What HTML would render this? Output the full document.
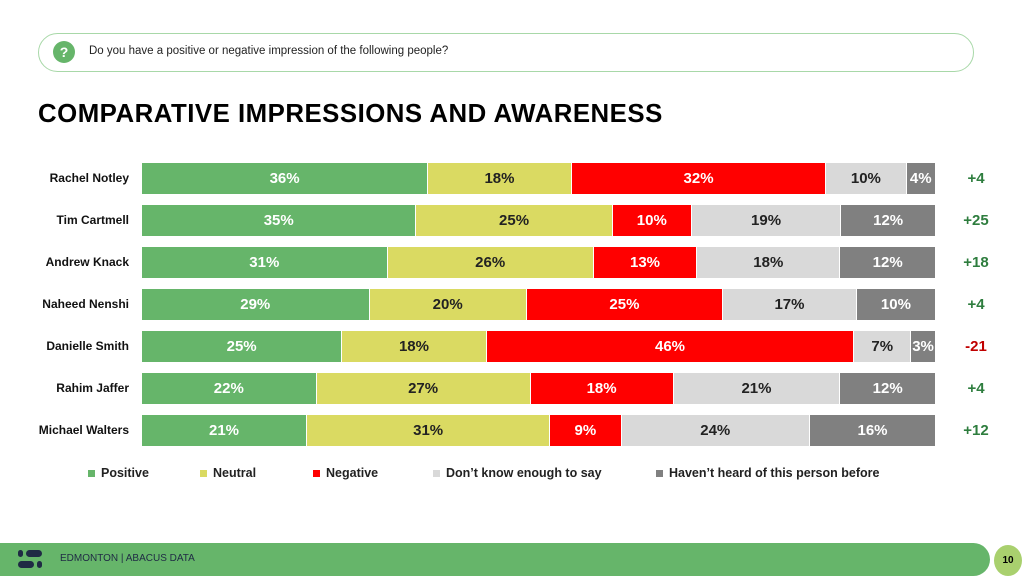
<!DOCTYPE html>
<html><head><meta charset="utf-8"><style>
body{margin:0;width:1024px;height:576px;position:relative;background:#fff;font-family:"Liberation Sans",sans-serif;overflow:hidden}
.q{position:absolute;left:38px;top:33px;width:936px;height:39px;border:1px solid #a8d8a8;border-radius:20px;box-sizing:border-box}
.qi{position:absolute;left:14px;top:7px;width:22px;height:22px;border-radius:50%;background:#66b56a;color:#fff;font-weight:bold;font-size:14px;text-align:center;line-height:22px}
.qt{position:absolute;left:50px;top:11px;font-size:11.5px;color:#222}
h1{position:absolute;left:38px;top:100px;margin:0;font-size:25.8px;font-weight:bold;letter-spacing:0.5px;color:#000}
.lab{position:absolute;right:895px;font-size:12px;font-weight:bold;color:#111;line-height:31px;text-align:right;white-space:nowrap}
.bar{position:absolute;left:142px;width:794px;height:31px;display:flex}
.bar div{height:100%;text-align:center;line-height:31px;font-size:15px;font-weight:bold;box-sizing:border-box;border-right:1px solid #fff;overflow:hidden}
.p{background:#66b56a;color:#fff}.n{background:#dada62;color:#222}.g{background:#ff0000;color:#fff}.d{background:#d9d9d9;color:#222}.h{background:#808080;color:#fff}
.diff{position:absolute;left:956px;font-size:15px;font-weight:bold;color:#2e7d3e;line-height:31px;width:40px;text-align:center}
.leg{position:absolute;top:466px;font-size:12.5px;font-weight:bold;color:#222;display:flex;align-items:center}
.leg span{display:inline-block;width:7px;height:7px;margin-right:6px}
.foot{position:absolute;left:0;top:543px;width:990px;height:33px;background:#66b56a;border-radius:0 17px 17px 0}
.ft{position:absolute;left:60px;top:553px;font-size:10px;color:#1f2a44}
.pg{position:absolute;left:994px;top:545px;width:28px;height:31px;border-radius:50%;background:#a9d06e;font-size:10px;font-weight:bold;text-align:center;line-height:31px}
</style></head><body>
<div class="q"><div class="qi">?</div><div class="qt">Do you have a positive or negative impression of the following people?</div></div>
<h1>COMPARATIVE IMPRESSIONS AND AWARENESS</h1>

<div class="lab" style="top:163px">Rachel Notley</div>
<div class="bar" style="top:163px"><div class="p" style="flex:36">36%</div><div class="n" style="flex:18">18%</div><div class="g" style="flex:32">32%</div><div class="d" style="flex:10">10%</div><div class="h" style="flex:3.6">4%</div></div>
<div class="diff" style="top:163px">+4</div>

<div class="lab" style="top:205px">Tim Cartmell</div>
<div class="bar" style="top:205px"><div class="p" style="flex:35">35%</div><div class="n" style="flex:25">25%</div><div class="g" style="flex:10">10%</div><div class="d" style="flex:19">19%</div><div class="h" style="flex:12">12%</div></div>
<div class="diff" style="top:205px">+25</div>

<div class="lab" style="top:247px">Andrew Knack</div>
<div class="bar" style="top:247px"><div class="p" style="flex:31">31%</div><div class="n" style="flex:26">26%</div><div class="g" style="flex:13">13%</div><div class="d" style="flex:18">18%</div><div class="h" style="flex:12">12%</div></div>
<div class="diff" style="top:247px">+18</div>

<div class="lab" style="top:289px">Naheed Nenshi</div>
<div class="bar" style="top:289px"><div class="p" style="flex:29">29%</div><div class="n" style="flex:20">20%</div><div class="g" style="flex:25">25%</div><div class="d" style="flex:17">17%</div><div class="h" style="flex:10">10%</div></div>
<div class="diff" style="top:289px">+4</div>

<div class="lab" style="top:331px">Danielle Smith</div>
<div class="bar" style="top:331px"><div class="p" style="flex:25">25%</div><div class="n" style="flex:18">18%</div><div class="g" style="flex:46">46%</div><div class="d" style="flex:7">7%</div><div class="h" style="flex:3">3%</div></div>
<div class="diff" style="top:331px;color:#c00000">-21</div>

<div class="lab" style="top:373px">Rahim Jaffer</div>
<div class="bar" style="top:373px"><div class="p" style="flex:22">22%</div><div class="n" style="flex:27">27%</div><div class="g" style="flex:18">18%</div><div class="d" style="flex:21">21%</div><div class="h" style="flex:12">12%</div></div>
<div class="diff" style="top:373px">+4</div>

<div class="lab" style="top:415px">Michael Walters</div>
<div class="bar" style="top:415px"><div class="p" style="flex:21">21%</div><div class="n" style="flex:31">31%</div><div class="g" style="flex:9">9%</div><div class="d" style="flex:24">24%</div><div class="h" style="flex:16">16%</div></div>
<div class="diff" style="top:415px">+12</div>

<div class="leg" style="left:88px"><span style="background:#66b56a"></span>Positive</div>
<div class="leg" style="left:200px"><span style="background:#dada62"></span>Neutral</div>
<div class="leg" style="left:313px"><span style="background:#ff0000"></span>Negative</div>
<div class="leg" style="left:433px"><span style="background:#d9d9d9"></span>Don’t know enough to say</div>
<div class="leg" style="left:656px"><span style="background:#808080"></span>Haven’t heard of this person before</div>

<div class="foot"></div>
<svg style="position:absolute;left:18px;top:549px" width="32" height="22"><rect x="0" y="1" width="5" height="7" rx="2.5" fill="#1f2a44"/><rect x="8" y="1" width="16" height="7" rx="3.5" fill="#1f2a44"/><rect x="0" y="12" width="16" height="7" rx="3.5" fill="#1f2a44"/><rect x="19" y="12" width="5" height="7" rx="2.5" fill="#1f2a44"/></svg>
<div class="ft">EDMONTON | ABACUS DATA</div>
<div class="pg">10</div>
</body></html>
